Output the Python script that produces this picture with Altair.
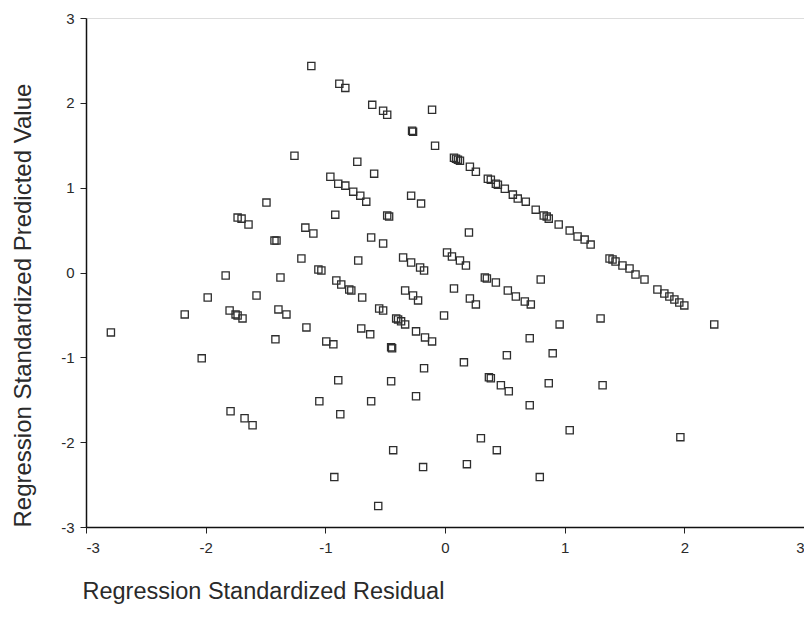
import altair as alt
import pandas as pd

# Regression Standardized Residual (x) and Regression Standardized Predicted Value (y)
residual = [
    -1.117, -0.883, -0.833, -0.608, -0.517, -0.483, -0.275, -0.267, 0.075, 0.092,
    0.108, 0.125, 0.208, 0.258, 0.358, 0.383, 0.425, 0.442, 0.500, 0.567,
    0.608, 0.675, 0.758, 0.825, 0.850, 0.867, 0.950, 1.042, 1.108, 1.167,
    1.217, 1.375, 1.400, 1.425, 1.483, 1.542, 1.592, 1.667, 1.775, 1.833,
    1.875, 1.917, 1.958, 2.000,
    -1.258, -0.958, -0.892, -0.833, -0.767, -0.708, -0.658, -0.733, -0.592, -0.483,
    -0.467, -0.283, -0.200, -0.108, -0.083, -0.917, -1.167, -1.100, -1.425, -1.408,
    -1.492, -1.733, -1.700, -1.642, -0.617, -0.517, 0.200, -0.725, -0.350, -0.283,
    -0.208, -0.175, 0.017, 0.058, 0.125, 0.175, -1.200, -1.058, -1.033, -0.908,
    -0.867, -0.800, -0.783, -0.692, -0.333, -0.267, -0.225, 0.075, 0.208, 0.258,
    0.333, 0.350, 0.425, 0.525, 0.592, 0.667, 0.717, 0.800, -1.833, -1.375,
    -1.983, -1.575, -2.175, -1.800, -1.750, -1.733, -1.692, -1.392, -1.325, -2.792,
    -1.158, -1.417, -0.992, -0.933, -0.550, -0.517, -0.408, -0.392, -0.367, -0.333,
    -0.242, -0.167, -0.108, -0.008, -0.700, -0.625, -0.450, -0.442, 0.958, 1.300,
    2.250, 0.708, 0.517, 0.900, 0.158, -2.033, -0.892, -1.050, -0.875, -1.792,
    -1.675, -1.608, -0.925, -0.175, -0.450, 0.367, 0.383, 0.467, 0.533, 0.867,
    1.317, -0.617, -0.242, 0.708, 1.042, 0.300, 0.433, -0.433, -0.183, 0.183,
    0.792, -0.558, 1.967,
]
predicted = [
    2.435, 2.224, 2.176, 1.976, 1.906, 1.859, 1.671, 1.659, 1.353, 1.341,
    1.329, 1.318, 1.247, 1.188, 1.106, 1.094, 1.047, 1.035, 0.988, 0.918,
    0.871, 0.835, 0.741, 0.671, 0.659, 0.635, 0.565, 0.494, 0.424, 0.388,
    0.329, 0.165, 0.153, 0.129, 0.082, 0.047, -0.024, -0.082, -0.200, -0.247,
    -0.282, -0.318, -0.353, -0.388,
    1.376, 1.129, 1.047, 1.024, 0.953, 0.906, 0.835, 1.306, 1.165, 0.671,
    0.659, 0.906, 0.812, 1.918, 1.494, 0.682, 0.529, 0.459, 0.376, 0.376,
    0.824, 0.647, 0.635, 0.565, 0.412, 0.341, 0.471, 0.141, 0.176, 0.118,
    0.059, 0.024, 0.235, 0.188, 0.141, 0.082, 0.165, 0.035, 0.024, -0.094,
    -0.141, -0.200, -0.212, -0.294, -0.212, -0.271, -0.329, -0.188, -0.306, -0.376,
    -0.059, -0.071, -0.118, -0.212, -0.282, -0.341, -0.376, -0.082, -0.035, -0.059,
    -0.294, -0.271, -0.494, -0.447, -0.494, -0.506, -0.541, -0.435, -0.494, -0.706,
    -0.647, -0.788, -0.812, -0.847, -0.424, -0.447, -0.541, -0.553, -0.576, -0.612,
    -0.694, -0.765, -0.812, -0.506, -0.659, -0.729, -0.882, -0.894, -0.612, -0.541,
    -0.612, -0.776, -0.976, -0.953, -1.059, -1.012, -1.271, -1.518, -1.671, -1.635,
    -1.718, -1.800, -2.412, -1.129, -1.282, -1.235, -1.247, -1.329, -1.400, -1.306,
    -1.329, -1.518, -1.459, -1.565, -1.859, -1.953, -2.094, -2.094, -2.294, -2.259,
    -2.412, -2.753, -1.941,
]
tick_values = [-3, -2, -1, 0, 1, 2, 3]

df = pd.DataFrame({"residual": residual, "predicted": predicted})

FONT = "Liberation Sans"
TEXT = "#2a2a2a"
LABEL_EXPR = "'' + datum.value"

chart = (
    alt.Chart(df)
    .mark_point(shape="square", filled=False, size=52, color="#2e2e2e", strokeWidth=1.3, opacity=1)
    .encode(
        x=alt.X(
            "residual:Q",
            scale=alt.Scale(domain=[-3, 3], nice=False, zero=False),
            axis=alt.Axis(
                values=tick_values,
                labelExpr=LABEL_EXPR,
                title="Regression Standardized Residual",
                titleAnchor="start",
                titleAlign="left",
                titleX=-4,
                titlePadding=24,
                titleFontSize=23.5,
                titleFontWeight="normal",
                titleFont=FONT,
                titleColor=TEXT,
                labelFont=FONT,
                labelFontSize=15,
                labelColor=TEXT,
                labelPadding=7,
                tickSize=6,
                tickColor="#222222",
                domainColor="#111111",
                domainWidth=1.5,
                grid=False,
            ),
        ),
        y=alt.Y(
            "predicted:Q",
            scale=alt.Scale(domain=[-3, 3], nice=False, zero=False),
            axis=alt.Axis(
                values=tick_values,
                labelExpr=LABEL_EXPR,
                title="Regression Standardized Predicted Value",
                titleAnchor="start",
                titlePadding=25,
                titleFontSize=24,
                titleFontWeight="normal",
                titleFont=FONT,
                titleColor=TEXT,
                labelFont=FONT,
                labelFontSize=15,
                labelColor=TEXT,
                labelPadding=6,
                tickSize=6,
                tickColor="#222222",
                domainColor="#111111",
                domainWidth=1.5,
                grid=False,
            ),
        ),
    )
    .properties(
        width=718,
        height=509,
        autosize=alt.AutoSizeParams(type="none"),
        padding={"left": 78, "top": 10, "right": 0, "bottom": 77},
    )
    .configure_view(stroke="#111111", strokeWidth=1.5)
    .configure(background="white")
)

chart.save("out.html", embed_options={"renderer": "svg", "actions": False})
